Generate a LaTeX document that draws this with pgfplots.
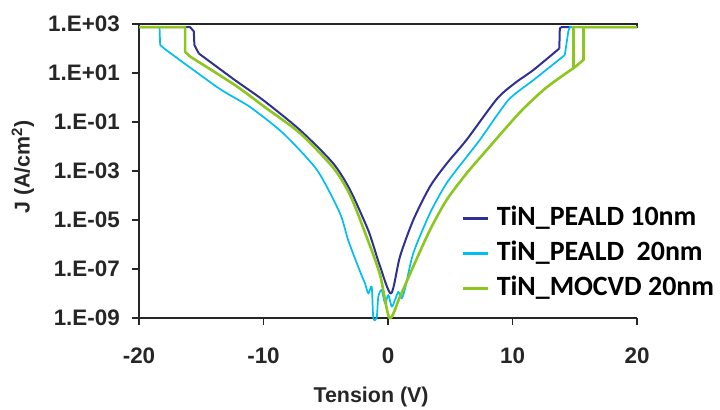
\documentclass[border=0pt]{standalone}
\usepackage{pgfplots}
\pgfplotsset{compat=1.18}
\usepackage{fontspec}
\setmainfont{Liberation Sans}
\newfontfamily\calib{Carlito}
\definecolor{cDB}{RGB}{46,49,146}
\definecolor{cLB}{RGB}{0,190,242}
\definecolor{cGR}{RGB}{140,198,30}
\begin{document}
\begin{tikzpicture}
\useasboundingbox (0,0) rectangle (720bp,410bp);
\begin{axis}[
  at={(139bp,92bp)}, anchor=south west,
  scale only axis, width=498bp, height=294bp,
  ymode=log, xmin=-20, xmax=20, ymin=1e-9, ymax=1e3,
  axis x line*=bottom, axis y line*=left,
  axis line style={line width=1.5bp, black!85},
  xtick={-20,-10,0,10,20}, xticklabels={-20,-10,0,10,20},
  ytick={1e-9,1e-7,1e-5,1e-3,1e-1,1e1,1e3},
  yticklabels={1.E-09,1.E-07,1.E-05,1.E-03,1.E-01,1.E+01,1.E+03},
  yminorticks=false, xminorticks=false,
  tick align=outside, major tick length=7bp,
  tick style={line width=1.5bp, black!85},
  ticklabel style={font=\bfseries\fontsize{22.5}{26}\selectfont, text=black!85},
  yticklabel style={inner sep=0pt, xshift=-12bp},
  xticklabel style={inner sep=0pt, yshift=-23bp},
  xlabel={Tension (V)},
  ylabel={J (A/cm\textsuperscript{2})},
  label style={font=\bfseries\fontsize{21.5}{24}\selectfont, text=black!85},
  xlabel style={at={(axis description cs:0.466,-0.269)}, anchor=center},
  ylabel style={at={(axis description cs:-0.233,0.514)}, anchor=center, rotate=0},
  clip=false,
  legend style={draw=none, fill=none, at={(axis description cs:0.6406,0.391)}, anchor=north west,
    font=\calib\bfseries\fontsize{28}{32}\selectfont, row sep=9bp, column sep=8bp,
    nodes={inner sep=0pt, text height=20bp, text depth=6bp}},
  legend cell align=left,
  legend image code/.code={\draw[#1, line width=2.6bp] (0bp,0bp) -- (25bp,0bp);},
]
\draw[line width=1.5bp, black!85] (axis cs:-20,1000) -- (axis cs:20,1000) -- (axis cs:20,700);
% ---- TiN_PEALD 10nm
\addplot[cDB, line width=2bp, line join=round, forget plot] coordinates {
(-20,750) (-15.9,750) (-15.6,500) (-15.55,138) (-15.2,63)};
\addplot[cDB, line width=2bp, line join=round, smooth, tension=0.45] coordinates {
(-15.2,63) (-12.29,5.1) (-10.04,0.79)
(-7.07,0.047) (-4.42,2.1e-3) (-3.05,1.7e-4) (-1.71,5.4e-6) (-1.31,1.5e-6) (-0.64,1.3e-7)
(0.25,1.0e-8) (0.96,3.2e-7) (2.03,1.0e-5) (3.37,2.3e-4) (4.71,2.0e-3) (6.32,1.9e-2)
(8.73,0.85) (10.2,3.9) (11.67,13.2) (13.76,100)};
\addlegendentry{TiN\_PEALD 10nm}
\addplot[cDB, line width=2bp, line join=round, forget plot] coordinates {
(13.76,100) (13.8,660) (13.95,750) (20,750)};
% ---- TiN_PEALD 20nm
\addplot[cLB, line width=1.7bp, line join=round, forget plot] coordinates {
(-20,750) (-18.35,750) (-18.3,138) (-17.9,93)};
\addplot[cLB, line width=1.7bp, line join=round, smooth, tension=0.4] coordinates {
(-17.9,93) (-13.6,2.4) (-11.08,0.41) (-8.43,0.035)
(-5.70,1.1e-3) (-3.86,1.9e-5) (-3.2,1.5e-6) (-2.25,8e-8) (-1.85,2.6e-8) (-1.58,1.0e-8)
(-1.31,1.9e-8) (-1.18,1e-9) (-0.91,1e-9) (-0.78,7.4e-9) (-0.51,1.4e-8) (-0.24,4e-9)
(0.03,8.7e-9) (0.3,2.9e-9) (0.56,5.4e-9) (0.83,1.17e-8) (1.1,6.3e-9) (1.37,1.6e-8)
(2.03,4.4e-7) (3.37,1.9e-5) (4.71,3.2e-4) (6.32,3.8e-3) (7.39,1.9e-2) (9.67,0.79)
(11.67,5.1) (14.2,54)};
\addlegendentry{TiN\_PEALD\ \ 20nm}
\addplot[cLB, line width=1.7bp, line join=round, forget plot] coordinates {
(14.2,54) (14.48,490) (14.6,750) (20,750)};
% ---- TiN_MOCVD 20nm
\addplot[cGR, line width=2.6bp, line join=round, forget plot] coordinates {
(-20,750) (-16.3,750) (-16.3,74) (-15.9,47)};
\addplot[cGR, line width=2.6bp, line join=round, smooth, tension=0.45] coordinates {
(-15.9,47) (-12.29,3.2) (-9.88,0.40) (-7.07,0.035)
(-4.42,1.4e-3) (-3.05,1.05e-4) (-1.71,2e-6) (-0.64,5.8e-8) (0.12,1e-9) (0.96,7.4e-9)
(2.03,1.26e-7) (3.37,3.9e-6) (4.71,6.6e-5) (6.32,8.1e-4) (7.93,7.2e-3) (10.6,0.25)
(12.7,2.5) (14.9,15.8)};
\addlegendentry{TiN\_MOCVD 20nm}
\addplot[cGR, line width=2.6bp, line join=round, forget plot] coordinates {
(14.9,15.8) (15.7,34) (15.7,750) (20,750)};
\addplot[cGR, line width=2.6bp, forget plot] coordinates {(14.9,15.8) (14.9,750) (15.7,750)};
\end{axis}
\end{tikzpicture}
\end{document}
